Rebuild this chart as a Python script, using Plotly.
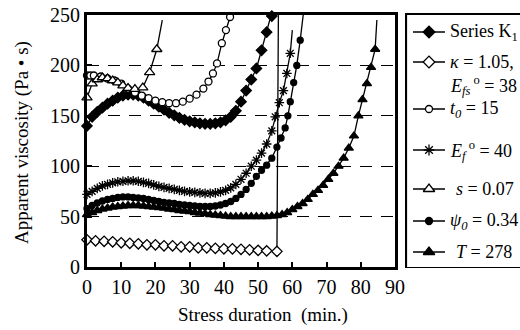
import plotly.graph_objects as go

# ---------------- data ----------------
k1_t = [0, 1.5, 3, 4.5, 6, 7.5, 9, 10.5, 12, 13.5, 15, 16.5, 18, 19.5, 21, 22.5, 24, 25.5, 27, 28.5,
        30, 31.5, 33, 34.5, 36, 37.5, 39, 40.5, 42, 43.5, 45, 46.5, 48, 49.5, 51, 52.5, 54, 55]
k1_v = [140, 149, 154, 158, 162, 165, 168, 170, 171, 171, 170, 168, 165, 162, 159, 156, 153, 150.5, 148, 146,
        144.5, 143.5, 142.5, 142, 142, 142.5, 143.5, 145.5, 149, 155, 164, 175, 186, 197, 215, 233, 249, 265]

kap_t = [0, 2.5, 5, 7.5, 10, 12.5, 15, 17.5, 20, 22.5, 25, 27.5, 30, 32.5, 35, 37.5, 40, 42.5, 45,
         47.5, 50, 52.5, 55.5, 56.2]
kap_v = [27, 26, 25.5, 25, 24, 23.5, 23, 22, 22, 21, 21, 20, 20, 19, 19, 18.5, 18, 18, 17.5,
         17, 16.5, 16, 15.5, 400]

t0_t = [0, 1, 2, 4, 6, 8, 10, 12, 14, 16, 18, 20, 22, 24, 26, 28, 30, 32, 34, 35.5, 36.8, 38,
        39.4, 40.6, 41.8, 43]
t0_v = [190, 190, 190, 189, 187, 185, 182, 177, 173, 170, 167.5, 165, 163.5, 162.5, 162.5, 164, 167, 171,
        177, 184, 192, 202, 222, 235, 248, 275]

ef_t = [0, 1.5, 3, 4.5, 6, 7.5, 9, 10.5, 12, 13.5, 15, 16.5, 18, 19.5, 21, 22.5, 24, 25.5, 27, 28.5,
        30, 31.5, 33, 34.5, 36, 37.5, 39, 40.5, 42, 43.5, 45, 46.5, 48, 49.5, 51, 52.5, 54, 55,
        56.2, 57.4, 58.4, 59.4, 60]
ef_v = [72, 75, 78, 80.5, 82, 83.5, 84.5, 85, 85.5, 85.5, 85, 84, 83, 81.5, 80, 79, 78, 77, 76, 75,
        74.5, 74, 73.5, 73, 73, 73.5, 74.5, 76, 78.5, 82, 87, 93, 100, 106, 113, 122, 135, 149,
        163, 175, 192, 212, 235]

s_t = [0, 1.5, 3, 4.5, 6, 7.5, 9, 10.5, 12, 14, 16.3, 18.3, 20.4, 22]
s_v = [168, 182, 186, 188, 187, 185, 183, 180, 177.5, 176.5, 178, 193, 216, 245]

psi_t = [0, 1.5, 3, 4.5, 6, 7.5, 9, 10.5, 12, 13.5, 15, 16.5, 18, 19.5, 21, 22.5, 24, 25.5, 27, 28.5,
         30, 31.5, 33, 34.5, 36, 37.5, 39, 40.5, 42, 43.5, 45, 46.5, 48, 49.5, 51, 52.5, 54, 55.5,
         56.7, 57.9, 58.7, 59.4, 60.4, 61.3, 62.3, 63.6]
psi_v = [58, 61, 63.5, 65.5, 67, 68, 69, 69.5, 69.5, 69, 68.5, 68, 67, 66, 65, 64, 63.5, 63, 62, 61.5,
         61, 60.5, 60, 60, 60, 60.5, 61.5, 63, 65, 68, 72, 77, 83, 90, 96, 101, 108, 119,
         128, 138, 150, 164, 183, 200, 225, 262]

T_t = [0, 1.5, 3, 4.5, 6, 7.5, 9, 10.5, 12, 13.5, 15, 16.5, 18, 19.5, 21, 22.5, 24, 25.5, 27, 28.5,
       30, 31.5, 33, 34.5, 36, 37.5, 39, 40.5, 42, 43.5, 45, 46.5, 48, 49.5, 51, 52.5, 54, 55.5,
       57, 58.5, 60, 61.5, 63, 64.5, 66, 67.5, 69, 70.5, 72, 73.5, 75, 76.5, 78, 79.3, 80.5,
       81.8, 83, 84.2, 84.7]
T_v = [52, 54, 56, 57.5, 58.5, 59.5, 60, 60.5, 61, 61, 61, 60.5, 60, 59.5, 59, 58.5, 57.5, 57, 56, 55.5,
       55, 54, 53.5, 53, 52, 51.5, 51, 50.5, 50, 50, 50, 50, 50, 50, 50, 50, 50.5, 51,
       52, 54, 57, 60, 63, 67, 72, 76, 81, 87, 93, 100, 108, 118, 130, 150, 166,
       182, 198, 216, 245]

x_ticks = [0, 10, 20, 30, 40, 50, 60, 70, 80, 90]
y_ticks = [0, 50, 100, 150, 200, 250]

names = [
    "Series K<sub>1</sub>",
    "<i>κ</i> = 1.05,<br><i>E<sub>fs</sub></i><sup> o</sup> = 38",
    "<i>t<sub>0</sub></i> = 15",
    "<i>E<sub>f</sub></i><sup> o</sup> = 40",
    "<i>s</i> = 0.07",
    "<i>ψ<sub>0</sub></i> = 0.34",
    "<i>T</i> = 278",
]

FONT = "Liberation Serif"

# ---------------- layout geometry (pixels) ----------------
W, H = 520, 330
ML, MR, MT, MB = 87, 0, 13, 62
PLOT_R, PLOT_T, PLOT_B = 395, 15, 267
LEG_L, LEG_R, LEG_T, LEG_B = 405, 520, 13, 268
pw, ph = W - ML - MR, H - MT - MB
leg_rows = [32, 62, 109, 150, 189, 221, 252]
leg_line2 = 85
leg_text_x = [448, 448, 448, 448, 454, 448, 454]


def sizes(n, base, hide_last):
    s = [base] * n
    if hide_last:
        s[-1] = 0
    return s


series = [
    (k1_t, k1_v, "diamond", "black", 8, 9),
    (kap_t, kap_v, "diamond", "white", 8, 9),
    (t0_t, t0_v, "circle", "white", 7, 7),
    (ef_t, ef_v, "asterisk-open", "black", 8, 9),
    (s_t, s_v, "triangle-up", "white", 9, 10),
    (psi_t, psi_v, "circle", "black", 6, 7),
    (T_t, T_v, "triangle-up", "black", 8, 10),
]

fig = go.Figure()
annotations = []
for i, (xs, ys, sym, fill, sz, lsz) in enumerate(series):
    fig.add_trace(go.Scatter(
        x=xs, y=ys, mode="lines+markers", name=names[i], showlegend=False,
        line=dict(color="black", width=1.3),
        marker=dict(symbol=sym, color=fill, size=sizes(len(xs), sz, True), opacity=1,
                    line=dict(color="black", width=1.3)),
        cliponaxis=False,
    ))
    # legend entry: short line + marker + label
    ry = leg_rows[i]
    fig.add_trace(go.Scatter(
        x=[413, 445], y=[ry, ry], mode="lines", xaxis="x2", yaxis="y2",
        line=dict(color="black", width=1.5), showlegend=False, hoverinfo="skip",
    ))
    fig.add_trace(go.Scatter(
        x=[429], y=[ry], mode="markers", xaxis="x2", yaxis="y2",
        marker=dict(symbol=sym, color=fill, size=lsz, opacity=1, line=dict(color="black", width=1.3)),
        showlegend=False, hoverinfo="skip", cliponaxis=False,
    ))
    parts = names[i].split("<br>")
    for j, part in enumerate(parts):
        annotations.append(dict(
            text=part, x=leg_text_x[i], y=ry if j == 0 else leg_line2, xref="x2", yref="y2",
            xanchor="left", yanchor="middle", align="left", showarrow=False,
            font=dict(family=FONT, size=18, color="black"),
        ))

annotations += [
    dict(text="Stress duration&nbsp;&nbsp;(min.)", xref="paper", yref="paper",
         x=(263 - ML) / pw, y=(H - MB - 315) / ph, xanchor="center", yanchor="middle",
         showarrow=False, font=dict(family=FONT, size=19)),
    dict(text="Apparent viscosity (Pa • s)", xref="paper", yref="paper",
         x=(22 - ML) / pw, y=(H - MB - 143) / ph, xanchor="center", yanchor="middle",
         showarrow=False, textangle=-90, font=dict(family=FONT, size=19)),
]

fig.update_layout(
    width=W, height=H,
    margin=dict(l=ML, r=MR, t=MT, b=MB, autoexpand=False),
    paper_bgcolor="white", plot_bgcolor="white",
    font=dict(family=FONT, size=17, color="black"),
    showlegend=False,
    annotations=annotations,
    shapes=[dict(type="rect", xref="x2", yref="y2", x0=LEG_L + 1, x1=LEG_R + 5,
                 y0=LEG_T + 1, y1=LEG_B, line=dict(color="black", width=2.2),
                 fillcolor="rgba(0,0,0,0)", layer="below")],
    xaxis=dict(
        domain=[0, (PLOT_R - ML) / pw],
        range=[0, 90], tickvals=x_ticks, ticktext=[str(v) for v in x_ticks],
        showline=True, linecolor="black", linewidth=3, mirror=True,
        ticks="inside", ticklen=5, tickwidth=2, tickcolor="black",
        showgrid=False, zeroline=False,
        tickfont=dict(family=FONT, size=20),
    ),
    yaxis=dict(
        domain=[(H - MB - PLOT_B) / ph, (H - MB - PLOT_T) / ph],
        range=[0, 250], tickvals=y_ticks, ticktext=[str(v) for v in y_ticks],
        showline=True, linecolor="black", linewidth=3, mirror=True,
        ticks="inside", ticklen=5, tickwidth=2, tickcolor="black",
        showgrid=True, gridcolor="black", gridwidth=1, griddash="12px,9px",
        zeroline=False,
        tickfont=dict(family=FONT, size=20),
    ),
    xaxis2=dict(domain=[(LEG_L - ML) / pw, 1], range=[LEG_L, LEG_R], anchor="y2",
                visible=False, fixedrange=True),
    yaxis2=dict(domain=[0, 1], range=[H - MB, MT], anchor="x2",
                visible=False, fixedrange=True),
)

fig.write_html("out.html")
